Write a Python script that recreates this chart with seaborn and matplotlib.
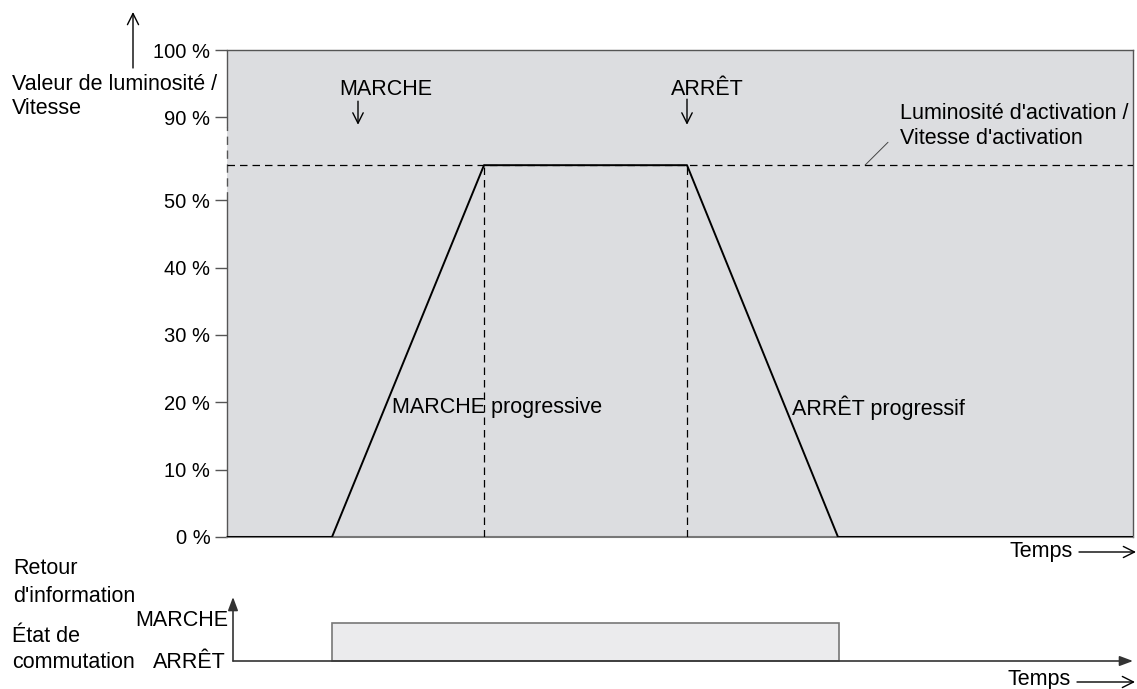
import matplotlib
matplotlib.use("Agg")
import matplotlib.pyplot as plt
import seaborn as sns
import pandas as pd

# ---------------- data ----------------
# time axis in arbitrary units (axis spans 0 .. 9.06)
time_points = [0.0, 1.05, 2.57, 4.60, 6.11, 9.06]
# brightness level on the (broken) position scale
level_points = [0.0, 0.0, 5.52, 5.52, 0.0, 0.0]
activation_level = 5.52
on_time = 2.57
off_time = 4.60
tick_positions = [0, 1, 2, 3, 4, 5, 6.23, 7.23]
tick_labels = ["0 %", "10 %", "20 %", "30 %", "40 %", "50 %", "90 %", "100 %"]
feedback_on = 1.05
feedback_off = 6.12
x_max = 9.06
y_max = 7.23

W, H = 1137, 689
sns.set_style("white")
plt.rcParams['font.family'] = ['Liberation Sans', 'DejaVu Sans']
plt.rcParams['text.color'] = 'black'
plt.rcParams['ytick.color'] = 'black'
plt.rcParams['ytick.labelcolor'] = 'black'
FS = 15.5
TFS = 14.5

fig = plt.figure(figsize=(W / 100, H / 100), dpi=100)

def fr(x0, y0, x1, y1):
    return [x0 / W, 1 - y1 / H, (x1 - x0) / W, (y1 - y0) / H]

ax = fig.add_axes(fr(227, 50, 1133, 537))
ax.set_facecolor('#dcdde0')
df = pd.DataFrame({"t": time_points, "v": level_points})
sns.lineplot(data=df, x="t", y="v", ax=ax, color="black", lw=1.4, zorder=5)
ax.set_xlim(0, x_max)
ax.set_ylim(0, y_max)
ax.set_xlabel("")
ax.set_ylabel("")
ax.set_xticks([])
ax.set_yticks(tick_positions)
ax.set_yticklabels(tick_labels, fontsize=TFS, color='black')
ax.tick_params(axis='y', left=True, length=9, width=1, color='#555555', pad=3)
for s in ['top', 'right', 'bottom']:
    ax.spines[s].set_visible(True)
    ax.spines[s].set_color('#555555')
    ax.spines[s].set_linewidth(1.0)
ax.spines['bottom'].set_color('#777777')
ax.spines['bottom'].set_linewidth(1.5)
ax.spines['left'].set_visible(False)

# left spine with dashed break
ytr = ax.get_yaxis_transform()
brk_lo, brk_hi = 5.0, 6.09
ax.plot([0, 0], [0, brk_lo], transform=ytr, color='#555555', lw=1.0, clip_on=False)
ax.plot([0, 0], [brk_lo, brk_hi], transform=ytr, color='#555555', lw=1.0,
        ls=(0, (6, 4)), clip_on=False)
ax.plot([0, 0], [brk_hi, y_max], transform=ytr, color='#555555', lw=1.0, clip_on=False)

# dashed activation level + verticals
ax.axhline(activation_level, color='black', lw=0.9, ls=(0, (6, 4)), zorder=3)
for t in (on_time, off_time):
    ax.plot([t, t], [0, activation_level], color='black', lw=0.9, ls=(0, (6, 4)), zorder=3)

# annotations inside
arr_small = dict(arrowstyle='->,head_length=0.5,head_width=0.25', color='black', lw=1.0,
                 shrinkA=0, shrinkB=0, mutation_scale=15)
ax.text(1.59, 6.64, "MARCHE", fontsize=FS, ha='center', va='center')
ax.annotate("", xy=(1.31, 6.12), xytext=(1.31, 6.47), arrowprops=arr_small)
ax.text(4.80, 6.64, "ARRÊT", fontsize=FS, ha='center', va='center')
ax.annotate("", xy=(4.60, 6.12), xytext=(4.60, 6.50), arrowprops=arr_small)
ax.text(6.73, 6.29, "Luminosité d'activation /", fontsize=FS, ha='left', va='center')
ax.text(6.73, 5.92, "Vitesse d'activation", fontsize=FS, ha='left', va='center')
ax.plot([6.38, 6.61], [activation_level, 5.86], color='#444444', lw=0.7)
ax.text(1.65, 1.92, "MARCHE progressive", fontsize=FS, ha='left', va='center', zorder=6)
ax.text(5.65, 1.92, "ARRÊT progressif", fontsize=FS, ha='left', va='center', zorder=6)

# lower panel
ax2 = fig.add_axes(fr(227, 590, 1133, 670))
ax2.set_xlim(0, x_max)
ax2.set_ylim(-(670 - 661) / 38, (661 - 590) / 38)
ax2.axis('off')
ax2.bar([feedback_on], [1.0], width=feedback_off - feedback_on, align='edge',
        color='#ebebed', edgecolor='#777777', linewidth=1.2, zorder=2)
ax2.annotate("", xy=(x_max, 0), xytext=(0.06, 0), xycoords='data',
             arrowprops=dict(arrowstyle='-|>,head_length=0.8,head_width=0.3',
                             color='#333333', lw=1.2, shrinkA=0, shrinkB=0),
             annotation_clip=False, zorder=3)
ax2.annotate("", xy=(0.06, (661 - 597) / 38), xytext=(0.06, 0), xycoords='data',
             arrowprops=dict(arrowstyle='-|>,head_length=0.8,head_width=0.3',
                             color='#333333', lw=1.2, shrinkA=0, shrinkB=0),
             annotation_clip=False, zorder=3)

# figure texts (pixel positions)
def ft(x, y, s, ha='left', va='center'):
    fig.text(x / W, 1 - y / H, s, fontsize=FS, ha=ha, va=va)

def farrow(x0, y0, x1, y1, lw=1.0):
    fig.add_artist(matplotlib.patches.FancyArrowPatch(
        (x0 / W, 1 - y0 / H), (x1 / W, 1 - y1 / H), transform=fig.transFigure,
        arrowstyle='->,head_length=0.5,head_width=0.25', mutation_scale=16,
        color='black', lw=lw, shrinkA=0, shrinkB=0))

ft(12, 84, "Valeur de luminosité /")
ft(12, 108, "Vitesse")
farrow(133, 68, 133, 12)
ft(1010, 551, "Temps")
farrow(1079, 552, 1136, 552)
ft(1008, 680, "Temps")
farrow(1077, 682, 1135, 682)
ft(13, 568, "Retour")
ft(13, 596, "d'information")
ft(12, 636, "État de")
ft(12, 662, "commutation")
ft(228, 621, "MARCHE", ha='right')
ft(226, 663, "ARRÊT", ha='right')

fig.savefig("out.png", dpi=100)
